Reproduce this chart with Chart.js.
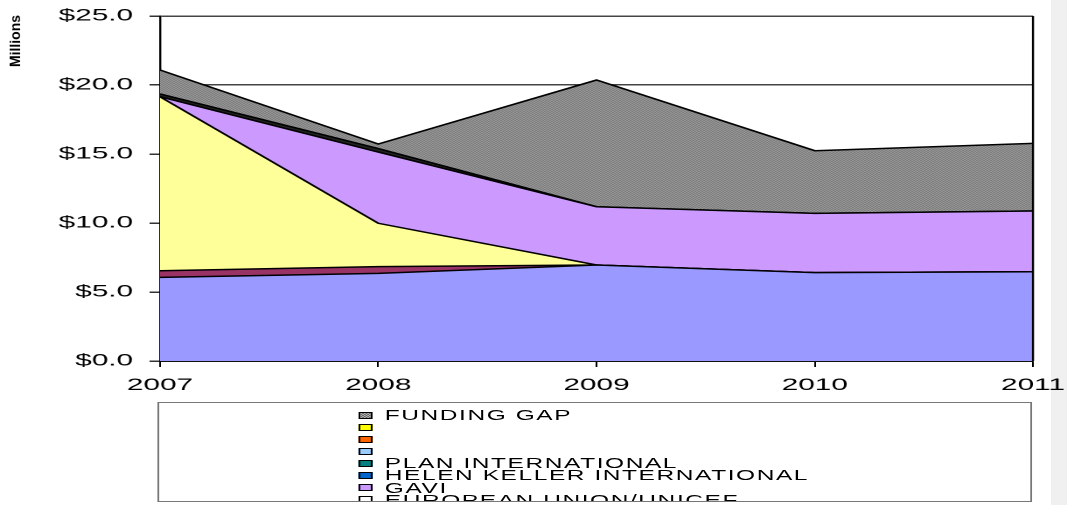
<!DOCTYPE html>
<html>
<head>
<meta charset="utf-8">
<script src="https://cdn.jsdelivr.net/npm/chart.js@4/dist/chart.umd.min.js"></script>
<style>
  html, body { margin: 0; padding: 0; background: #fff; }
  body { width: 1067px; height: 505px; overflow: hidden; position: relative;
         font-family: "Liberation Sans", Arial, sans-serif; }
  #side { position: absolute; left: 1051px; top: 0; width: 16px; height: 505px; background: #F0F0F0; }
  /* the chart is laid out on a narrow stage and widened horizontally */
  #stage { position: absolute; left: 0; top: 0; width: 610px; height: 505px;
           transform: scaleX(1.7492); transform-origin: 0 0; }
  #chart { position: absolute; left: 0; top: 0; }
  #legend { position: absolute; left: 90.3px; top: 402px; width: 500px; height: 100px;
            box-sizing: border-box; border: 1px solid #777; overflow: hidden; }
  #legend .rows { position: absolute; left: 113.3px; top: 6px; }
  #legend .row { display: flex; align-items: center; height: 12.1px; line-height: 12.1px;
                 font-size: 14px; letter-spacing: 0.9px; color: #000; white-space: nowrap; }
  #legend .sw { width: 8.5px; height: 7px; box-sizing: border-box; border: 1px solid #000;
                margin-right: 6.9px; flex: none; }
  #legend .pat { background: repeating-conic-gradient(#666 0 25%, #b0b0b0 0 50%) 0 0 / 2px 2px; }
</style>
</head>
<body>
<div id="side"></div>
<div id="stage">
  <canvas id="chart" width="610" height="505"></canvas>
  <div id="legend"><div class="rows" id="rows"></div></div>
</div>
<script>
// Years on the horizontal axis
const years = ['2007', '2008', '2009', '2010', '2011'];

// Stacked contributions, $ millions, bottom layer first
const blueBand   = [6.06, 6.35, 6.96, 6.40, 6.47];
const maroonBand = [0.48, 0.49, 0.00, 0.00, 0.00];
const yellowBand = [12.61, 3.14, 0.00, 0.00, 0.00];
const purpleBand = [0.00, 5.16, 4.22, 4.30, 4.40];
const darkBand   = [0.20, 0.25, 0.00, 0.00, 0.00];
const fundingGap = [1.74, 0.33, 9.18, 4.54, 4.90];

// Value axis
const yMin = 0;
const yMax = 25;
const yStep = 5;

// Legend entries, top to bottom
const legendLabels = ['FUNDING GAP', '', '', '', 'PLAN INTERNATIONAL',
                      'HELEN KELLER INTERNATIONAL', 'GAVI', 'EUROPEAN UNION/UNICEF'];
const legendSwatches = ['pattern', '#FFFF00', '#FF6600', '#99CCFF', '#008080',
                        '#0066CC', '#CC99FF', '#FFFFFF'];

// checkered fill for the funding gap
function checkerPattern(ctx) {
  const c = document.createElement('canvas');
  c.width = 2; c.height = 2;
  const g = c.getContext('2d');
  g.fillStyle = '#b4b4b4'; g.fillRect(0, 0, 2, 2);
  g.fillStyle = '#606060'; g.fillRect(0, 0, 1, 1); g.fillRect(1, 1, 1, 1);
  return ctx.createPattern(c, 'repeat');
}

const canvas = document.getElementById('chart');
const ctx = canvas.getContext('2d');

const layers = [
  { data: blueBand,   color: '#9999FF' },
  { data: maroonBand, color: '#993366' },
  { data: yellowBand, color: '#FFFF99' },
  { data: purpleBand, color: '#CC99FF' },
  { data: darkBand,   color: '#222222' },
  { data: fundingGap, color: checkerPattern(ctx) }
];

const datasets = layers.map((l, i) => ({
  data: l.data,
  backgroundColor: l.color,
  borderColor: '#000',
  borderWidth: 1.5,
  fill: i === 0 ? 'origin' : '-1',
  pointRadius: 0,
  tension: 0
}));

// right-hand frame line of the plot
const frame = {
  id: 'frame',
  afterDatasetsDraw(chart) {
    const a = chart.chartArea, c = chart.ctx;
    c.save();
    c.strokeStyle = '#000';
    c.lineWidth = 1.2;
    c.beginPath();
    c.moveTo(a.right, a.top);
    c.lineTo(a.right, a.bottom);
    c.stroke();
    c.restore();
  }
};

// compressed vertical axis caption
const yCaption = {
  id: 'yCaption',
  afterDraw(chart) {
    const c = chart.ctx;
    c.save();
    c.translate(9.3, 41);
    c.rotate(-Math.PI / 2);
    c.font = 'bold 13px "Liberation Sans", Arial, sans-serif';
    c.textAlign = 'center';
    c.textBaseline = 'middle';
    const w = c.measureText('Millions').width;
    c.scale(52 / w, 0.62);
    c.fillStyle = '#000';
    c.fillText('Millions', 0, 0);
    c.restore();
  }
};

Chart.defaults.font.family = '"Liberation Sans", Arial, sans-serif';

new Chart(ctx, {
  type: 'line',
  data: { labels: years, datasets },
  options: {
    responsive: false,
    devicePixelRatio: 2,
    animation: false,
    layout: { padding: { top: 16, right: 19.45, bottom: 0, left: 0 } },
    plugins: { legend: { display: false }, tooltip: { enabled: false } },
    scales: {
      x: {
        type: 'category',
        offset: false,
        grid: { drawOnChartArea: false, tickLength: 6, color: '#000', lineWidth: 1 },
        border: { color: '#000', width: 1.2 },
        ticks: { font: { size: 17 }, color: '#000', padding: 8, maxRotation: 0, autoSkip: false },
        afterFit(s) { s.height = 144; s.paddingLeft = 0; s.paddingRight = 0; }
      },
      y: {
        stacked: true,
        min: yMin,
        max: yMax,
        ticks: {
          stepSize: yStep,
          callback: v => '$' + Number(v).toFixed(1),
          font: { size: 17 },
          color: '#000',
          padding: 9.4
        },
        grid: { color: '#444', lineWidth: 1.5, tickLength: 6, tickColor: '#333' },
        border: { color: '#000', width: 1.2 },
        afterFit(s) { s.width = 91.47; s.paddingTop = 0; s.paddingBottom = 0; }
      }
    }
  },
  plugins: [frame, yCaption]
});

// legend list
const rows = document.getElementById('rows');
legendLabels.forEach((label, i) => {
  const row = document.createElement('div');
  row.className = 'row';
  const sw = document.createElement('span');
  sw.className = 'sw';
  if (legendSwatches[i] === 'pattern') sw.classList.add('pat');
  else sw.style.background = legendSwatches[i];
  const tx = document.createElement('span');
  tx.textContent = label;
  row.appendChild(sw);
  row.appendChild(tx);
  rows.appendChild(row);
});
</script>
</body>
</html>
